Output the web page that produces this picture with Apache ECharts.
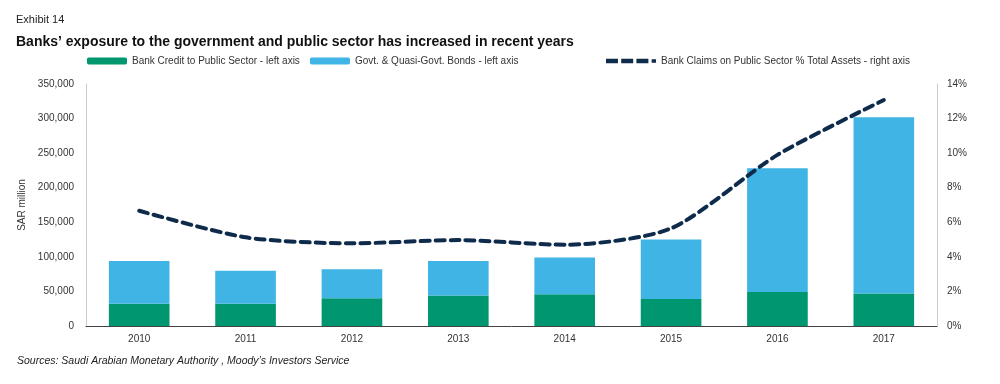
<!DOCTYPE html>
<html><head><meta charset="utf-8">
<script src="https://cdn.jsdelivr.net/npm/echarts@6/dist/echarts.min.js"></script>
<style>html,body{margin:0;padding:0;background:#fff;}#c{width:1000px;height:384px;}</style>
</head><body><div id="c"></div>
<script>
const years = ['2010','2011','2012','2013','2014','2015','2016','2017'];
const bankCredit = [32000, 32000, 40000, 44000, 46000, 39000, 49000, 47000];
const govBonds = [62000, 48000, 42000, 50000, 53000, 86000, 179000, 255000];
const claimsPct = [6.67, 5.13, 4.78, 4.97, 4.70, 5.65, 9.9, 13.07];
const leftTicks = {min: 0, max: 350000, interval: 50000};
const rightTicks = {min: 0, max: 14, interval: 2};
const names = ['Bank Credit to Public Sector - left axis', 'Govt. & Quasi-Govt. Bonds - left axis', 'Bank Claims on Public Sector % Total Assets - right axis'];

const chart = echarts.init(document.getElementById('c'), null, {renderer: 'canvas'});
const font = 'Liberation Sans, Arial, sans-serif';
const dashIcon = 'path://M0,0h11v4h-11z M14,0h11v4h-11z M28,0h11v4h-11z M42,0.5h4v3h-4z';
chart.setOption({
  animation: false,
  backgroundColor: '#fff',
  textStyle: {fontFamily: font},
  title: [
    {text: 'Exhibit 14', left: 11, top: 9, textStyle: {fontSize: 11, fontWeight: 'normal', color: '#222', fontFamily: font}},
    {text: 'Banks\u2019 exposure to the government and public sector has increased in recent years', left: 11, top: 30, textStyle: {fontSize: 14, fontWeight: 'bold', color: '#111', fontFamily: font}},
    {text: 'Sources: Saudi Arabian Monetary Authority , Moody\u2019s Investors Service', left: 12, top: 351, textStyle: {fontSize: 10.5, fontStyle: 'italic', fontWeight: 'normal', color: '#222', fontFamily: font}}
  ],
  legend: [
    {data: [names[0]], left: 87, top: 56, padding: 0, itemWidth: 40, itemHeight: 7, textStyle: {fontSize: 10, color: '#333'}},
    {data: [names[1]], left: 310, top: 56, padding: 0, itemWidth: 40, itemHeight: 7, textStyle: {fontSize: 10, color: '#333'}},
    {data: [{name: names[2], icon: dashIcon}], left: 606, top: 56, padding: 0, itemWidth: 50, itemHeight: 5, textStyle: {fontSize: 10, color: '#333'}}
  ],
  grid: {left: 86, right: 63, top: 84, bottom: 58, containLabel: false},
  xAxis: {
    type: 'category', data: years,
    axisLine: {lineStyle: {color: '#444', width: 1}},
    axisTick: {show: false},
    axisLabel: {fontSize: 10, color: '#333', margin: 8}
  },
  yAxis: [
    {
      type: 'value', min: leftTicks.min, max: leftTicks.max, interval: leftTicks.interval,
      name: 'SAR million', nameLocation: 'middle', nameGap: 58, nameRotate: 90,
      nameTextStyle: {fontSize: 10, color: '#333'},
      axisLine: {show: true, lineStyle: {color: '#ccc'}},
      axisTick: {show: false}, splitLine: {show: false},
      axisLabel: {fontSize: 10, color: '#333', margin: 12,
        formatter: v => v.toLocaleString('en-US')}
    },
    {
      type: 'value', min: rightTicks.min, max: rightTicks.max, interval: rightTicks.interval,
      position: 'right',
      axisLine: {show: true, lineStyle: {color: '#ccc'}},
      axisTick: {show: false}, splitLine: {show: false},
      axisLabel: {fontSize: 10, color: '#333', margin: 10, formatter: v => v + '%'}
    }
  ],
  series: [
    {name: names[0], type: 'bar', stack: 'a', data: bankCredit, barWidth: '57%', itemStyle: {color: '#009670'}},
    {name: names[1], type: 'bar', stack: 'a', data: govBonds, barWidth: '57%', itemStyle: {color: '#41b4e6'}},
    {name: names[2], type: 'line', yAxisIndex: 1, data: claimsPct, smooth: 0.25, symbol: 'none',
      lineStyle: {color: '#0f2b4c', width: 4, type: [9, 6], cap: 'round'}, itemStyle: {color: '#0f2b4c'}, z: 5}
  ]
});
</script></body></html>
